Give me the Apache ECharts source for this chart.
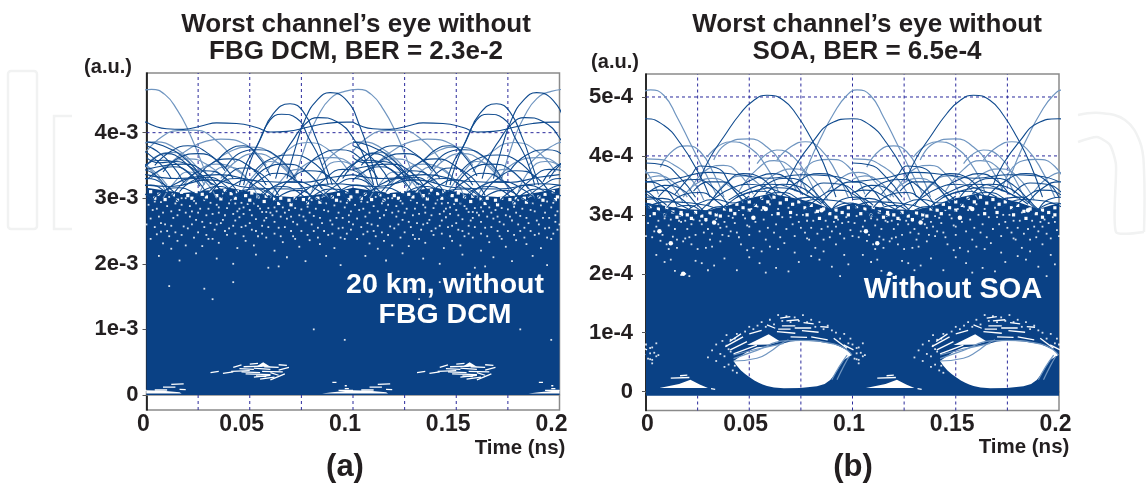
<!DOCTYPE html>
<html><head><meta charset="utf-8">
<script src="https://cdn.jsdelivr.net/npm/echarts@6/dist/echarts.min.js"></script>
<style>html,body{margin:0;padding:0;background:#fff}#c{width:1146px;height:485px}</style>
</head><body><div id="c"></div>
<script>
// ---------- axes ----------
const timeTicks=[0,0.05,0.1,0.15,0.2];
const timeGrid=[0.025,0.05,0.075,0.1,0.125,0.15,0.175];
const aLevelTicks=[0,1,2,3,4];
const aLevelLabels=['0','1e-3','2e-3','3e-3','4e-3'];
const bLevelTicks=[0,1,2,3,4,5];
const bLevelLabels=['0','1e-4','2e-4','3e-4','4e-4','5e-4'];
const repeats=[-0.1,0,0.1];   // the eye pattern repeats every 0.1 ns

// ---------- panel (a): values in units of 1e-3, traces as t,v,t,v... ----------
const aMassTop=[0,3.16,.008,3.12,.018,3.08,.03,3.12,.04,3.16,.05,3.1,.06,3.04,.07,3.02,.08,3.04,.09,3.09,.1,3.16];
const aMassBottom=0;
const aLightTraces=[
[.072,3.3,.078,3.9,.083,4.25,.089,4.52,.096,4.63,.1024,4.66,.109,4.58,.115,4.34,.12,4.05,.126,3.6,.131,3.2],
[0,3.72,.008,3.95,.015,4.03,.0226,4.04,.033,3.9,.043,3.55],
[.012,3.55,.022,3.78,.029,3.87,.036,3.9,.048,3.82,.058,3.5],
[.03,3.48,.041,3.72,.05,3.78,.061,3.68,.07,3.38],
[.058,3.4,.067,3.7,.078,3.85,.089,3.72,.098,3.4],
[.085,3.5,.094,3.75,.104,3.86,.115,3.74,.125,3.45],
[.002,3.3,.011,3.52,.02,3.6,.03,3.5,.04,3.22],
[.036,3.3,.044,3.58,.053,3.68,.063,3.55,.072,3.25],
[.07,3.28,.079,3.55,.09,3.62,.1,3.5,.11,3.2],
[.018,3.2,.026,3.44,.034,3.52,.044,3.42,.052,3.16],
[.046,3.1,.054,3.42,.06,3.56,.068,3.44,.076,3.1],
[.0,3.5,.006,3.66,.013,3.7,.02,3.58,.028,3.2],
[.08,3.1,.086,3.44,.093,3.56,.101,3.46,.109,3.12],
[.026,3.1,.032,3.38,.039,3.48,.047,3.36,.054,3.02],
[.06,3.0,.066,3.3,.073,3.44,.081,3.3,.088,3.0],
[.008,3.0,.014,3.26,.02,3.4,.027,3.3,.034,3.0]
];
const aDarkTraces=[
[0,4.16,.0097,4.06,.0178,4.05,.0275,4.11,.0339,4.15,.0436,4.14,.0533,4.08,.06,4.01,.068,4.02,.079,4.09,.087,4.14,.097,4.16,.1,4.16],
[.068,3.3,.0722,3.78,.0768,4.2,.0822,4.48,.0889,4.61,.097,4.49,.1034,4.09,.1082,3.64,.112,3.2],
[.047,3.2,.05,3.54,.055,3.89,.0614,4.29,.0695,4.44,.0759,4.32,.0824,3.89,.0864,3.54,.09,3.2],
[.045,3.2,.0485,3.54,.0533,3.79,.0598,4.19,.0654,4.28,.0727,4.22,.079,3.89,.084,3.59,.088,3.2],
[.0625,3.3,.0662,3.64,.071,3.89,.0765,4.12,.0832,4.23,.092,4.17,.1018,3.84,.1066,3.54,.11,3.2],
[.004,3.5,.012,3.72,.02,3.8,.03,3.68,.038,3.42],
[.038,3.45,.046,3.7,.054,3.74,.064,3.62,.072,3.3],
[.076,3.42,.084,3.66,.094,3.74,.104,3.6,.112,3.3],
[.0,3.62,.006,3.54,.014,3.56,.022,3.46,.032,3.2],
[.024,3.28,.031,3.52,.04,3.6,.05,3.48,.058,3.2],
[.05,3.2,.058,3.46,.067,3.52,.076,3.44,.085,3.14],
[.092,3.25,.099,3.5,.108,3.58,.118,3.44,.126,3.18],
[.0,3.28,.006,3.42,.013,3.48,.021,3.38,.029,3.08],
[.012,3.02,.02,3.3,.028,3.42,.037,3.34,.045,3.05],
[.031,3.06,.039,3.34,.047,3.46,.056,3.36,.064,3.04],
[.046,3.02,.054,3.26,.063,3.38,.071,3.3,.08,3.0],
[.062,3.02,.07,3.3,.079,3.42,.088,3.34,.096,3.04],
[.078,3.0,.086,3.28,.095,3.44,.104,3.36,.112,3.02],
[.006,3.02,.014,3.22,.023,3.3,.032,3.22,.04,3.0],
[.028,3.02,.036,3.24,.044,3.3,.052,3.2,.06,2.98],
[.055,2.98,.063,3.2,.072,3.26,.08,3.18,.088,3.0],
[.084,3.0,.092,3.2,.1,3.3,.108,3.22,.116,3.0],
[.0,3.2,.012,3.18,.03,3.28,.05,3.16,.07,3.14,.09,3.22,.1,3.2],
[.0,3.36,.015,3.3,.035,3.36,.055,3.26,.075,3.24,.09,3.32,.1,3.36],
[.0,3.44,.009,3.5,.018,3.52,.028,3.4,.036,3.1],
[.016,3.1,.022,3.26,.03,3.32,.038,3.2,.045,2.98],
[.036,3.0,.042,3.2,.05,3.28,.058,3.14,.065,2.92],
[.052,2.92,.058,3.12,.066,3.18,.074,3.08,.08,2.9],
[.07,2.92,.076,3.1,.084,3.2,.092,3.12,.098,2.96],
[.088,2.96,.094,3.12,.102,3.2,.11,3.08,.116,2.94],
[.003,2.98,.009,3.12,.016,3.16,.024,3.06,.03,2.94],
[.022,2.95,.029,3.14,.036,3.18,.043,3.06,.05,2.92],
[.041,2.95,.047,3.12,.054,3.14,.061,3.04,.067,2.88],
[.06,2.88,.066,3.06,.074,3.12,.081,3.02,.087,2.9],
[.077,2.9,.083,3.08,.09,3.14,.098,3.08,.104,2.96],
[.008,3.4,.016,3.62,.025,3.68,.034,3.58,.042,3.3],
[.052,3.4,.06,3.6,.07,3.66,.08,3.56,.088,3.3],
[.095,3.3,.102,3.56,.11,3.68,.118,3.56,.126,3.28],
[.034,3.55,.04,3.74,.047,3.8,.054,3.64,.06,3.34],
[.0,3.8,.005,3.72,.012,3.52,.018,3.24],
[.0,3.86,.008,3.8,.018,3.62,.028,3.28]
];
const aSpecks=[.011,3.02,.017,3.0,.019,3.0,.026,3.12,.037,3.07,.043,2.92,.046,2.93,.049,2.91,.056,2.79,.058,2.79,.082,3.0,.085,3.02,.08,2.97,.089,2.66,.081,2.73,.029,2.74,.024,2.67,.007,2.49,.002,2.69,.012,2.23,.039,2.85,
.004,2.95,.007,2.94,.014,2.92,.021,2.88,.023,2.96,.028,2.97,.031,2.93,.034,2.9,.035,2.78,.041,2.97,.044,2.8,.047,2.86,.052,2.92,.054,2.88,.059,2.85,.062,2.86,.066,2.86,.069,2.82,.072,2.85,.075,2.83,.078,2.87,.087,2.92,.091,2.89,.094,2.95,.097,2.93,.099,2.8,
.003,2.82,.006,2.72,.009,2.6,.013,2.7,.016,2.82,.018,2.57,.021,2.72,.026,2.84,.031,2.62,.033,2.52,.037,2.67,.042,2.58,.045,2.71,.05,2.62,.053,2.5,.057,2.66,.061,2.74,.064,2.55,.068,2.69,.073,2.6,.076,2.72,.083,2.55,.086,2.82,.092,2.7,.095,2.55,.098,2.64,
.002,2.38,.005,2.45,.008,2.31,.011,2.42,.015,2.35,.019,2.28,.023,2.4,.027,2.27,.03,2.38,.035,2.32,.039,2.44,.044,2.24,.048,2.35,.052,2.28,.058,2.4,.062,2.2,.066,2.33,.071,2.42,.074,2.26,.079,2.36,.084,2.3,.088,2.44,.091,2.24,.096,2.38,
.006,2.12,.016,2.05,.024,2.16,.034,2.08,.042,2.0,.053,2.14,.059,1.94,.068,2.1,.077,2.04,.087,2.12,.094,1.98,.028,1.62,.032,1.46,.011,1.66,.064,1.96,.042,1.72,.081,1.0,.096,.84,
.001,2.9,.005,2.84,.008,2.78,.01,2.88,.012,2.8,.015,2.74,.017,2.9,.019,2.78,.022,2.8,.024,2.92,.025,2.78,.027,2.64,.03,2.84,.032,2.76,.035,2.86,.036,2.62,.038,2.74,.04,2.92,.042,2.76,.043,2.66,.045,2.84,.047,2.76,.048,2.58,.05,2.82,.051,2.74,.053,2.68,.055,2.84,.056,2.58,.058,2.7,.06,2.78,.062,2.64,.063,2.8,.065,2.72,.067,2.78,.07,2.72,.071,2.64,.074,2.74,.077,2.66,.079,2.78,.08,2.6,.082,2.84,.084,2.7,.085,2.62,.088,2.8,.09,2.6,.093,2.78,.095,2.7,.096,2.86,.098,2.74,.1,2.6,
.004,2.56,.007,2.62,.01,2.5,.012,2.58,.014,2.48,.017,2.44,.02,2.54,.022,2.6,.025,2.48,.028,2.56,.029,2.44,.032,2.38,.034,2.6,.038,2.5,.04,2.54,.043,2.46,.046,2.56,.047,2.42,.051,2.52,.054,2.42,.056,2.46,.059,2.56,.062,2.46,.065,2.42,.067,2.56,.07,2.5,.072,2.38,.075,2.5,.078,2.44,.081,2.5,.083,2.4,.086,2.5,.09,2.46,.093,2.54,.094,2.4,.097,2.46,.099,2.52];
const aCells=[.002,3.1,.006,3.06,.01,3.12,.013,3.05,.017,3.09,.02,3.04,.024,3.1,.027,3.06,.031,3.11,.034,3.04,.038,3.12,.041,3.07,.044,3.1,.048,3.04,.051,3.08,.054,3.02,.058,3.03,.062,2.99,.065,3.0,.069,2.97,.072,3.0,.076,2.98,.079,3.0,.083,3.0,.086,3.05,.09,3.02,.093,3.06,.097,3.1,.099,3.02,
.004,3.0,.009,2.98,.015,2.97,.022,3.0,.029,3.02,.036,2.99,.043,3.0,.05,2.97,.057,2.95,.064,2.92,.07,2.9,.078,2.93,.084,2.94,.092,2.97,.098,2.98];
const aHoleTraces=[
.004,.075,.01,.075, .012,.16,.018,.17, .008,.12,.014,.12, .016,.085,.019,.08, .093,.07,.1,.07, .096,.095,.098,.095, .09,.19,.092,.19, .096,.14,.097,.14,
.047,.43,.056,.44, .05,.47,.054,.48, .057,.43,.064,.42, .041,.36,.05,.37, .048,.32,.06,.31, .052,.27,.06,.3, .056,.36,.066,.35, .055,.24,.062,.27, .06,.23,.067,.32, .064,.38,.069,.42, .037,.33,.042,.35, .031,.34,.035,.36,
.045,.4,.052,.39, .052,.41,.06,.39, .046,.35,.055,.34, .053,.29,.058,.28, .06,.34,.064,.3, .064,.46,.068,.45, .042,.42,.046,.46
];
const aHolePolys=[
[.053,.43,.0565,.5,.06,.43],
[.0,.02,.0,.07,.008,.065,.016,.04,.017,.02],
[.085,.02,.09,.04,.1,.07,.1,.02]
];

// ---------- panel (b): values in units of 1e-4 ----------
const bMassTop=[0,3.2,.008,3.16,.018,3.1,.03,3.08,.04,3.16,.05,3.28,.06,3.36,.07,3.3,.08,3.22,.09,3.1,.1,3.2];
const bMassBottom=-0.07;
const bLightTraces=[
[.075,3.5,.0796,3.93,.0844,4.29,.0909,4.72,.0973,5.03,.1022,5.12,.1086,5.03,.115,4.66,.1215,4.21,.128,3.76,.134,3.35],
[.0328,3.93,.0392,4.21,.0497,4.29,.0586,4.15,.0667,3.81,.073,3.4],
[.0295,3.98,.0408,4.24,.0497,4.15,.0586,3.8,.064,3.4],
[.0069,3.81,.0134,4.1,.0199,4.17,.0263,4.07,.0328,3.7,.0378,3.3],
[.0634,3.93,.07,4.15,.0772,4.24,.0844,4.12,.0925,3.7,.098,3.3],
[.0538,3.87,.0634,4.1,.0715,3.98,.078,3.65,.083,3.3],
[.0,3.95,.0061,3.94,.0134,3.85,.022,3.6,.028,3.25],
[.021,3.4,.03,3.78,.0375,3.84,.045,3.7,.052,3.35],
[.045,3.4,.054,3.78,.062,3.92,.071,3.78,.078,3.38],
[.072,3.4,.081,3.9,.089,3.94,.098,3.82,.106,3.35],
[.018,3.3,.024,3.52,.032,3.62,.04,3.5,.047,3.2],
[.056,3.5,.064,3.72,.072,3.78,.08,3.64,.088,3.25],
[.088,3.4,.096,3.66,.103,3.72,.111,3.56,.118,3.2],
[.0,3.6,.006,3.66,.013,3.56,.02,3.3],
[.033,3.3,.04,3.58,.047,3.66,.054,3.54,.061,3.26],
[.0424,.52,.0537,.567,.0602,.68,.065,.804,.069,.88],
[.0424,.624,.0537,.72,.0667,.82],
[.09,.2,.0935,.42,.0974,.62],
[.0925,.2,.096,.45,.0985,.6],
[.0424,.56,.0537,.7,.0667,.86,.0747,.87,.0909,.81,.0973,.708,.0997,.62]
];
const bDarkTraces=[
[.026,3.6,.0312,3.98,.0376,4.32,.0457,4.72,.0521,4.94,.0586,5.03,.0667,4.94,.0731,4.69,.0796,4.32,.086,3.87,.092,3.3],
[.068,3.5,.0731,3.87,.0812,4.26,.0893,4.55,.0998,4.63,.1086,4.52,.1167,4.21,.1256,3.7,.131,3.3],
[.0,3.88,.008,3.85,.016,3.65,.024,3.3],
[.0,3.56,.015,3.62,.03,3.72,.045,3.68,.06,3.62,.075,3.68,.09,3.66,.1,3.56],
[.014,3.35,.022,3.68,.0263,3.83,.034,3.8,.042,3.45,.048,3.2],
[.006,3.3,.015,3.55,.024,3.6,.033,3.45,.04,3.15],
[.03,3.15,.038,3.5,.047,3.7,.056,3.62,.064,3.3],
[.052,3.3,.06,3.55,.069,3.62,.078,3.5,.086,3.2],
[.064,3.25,.073,3.55,.084,3.7,.093,3.6,.1,3.3],
[.085,3.2,.092,3.45,.1,3.56,.108,3.48,.115,3.15],
[.0,3.38,.006,3.42,.014,3.34,.022,3.12],
[.01,3.12,.018,3.34,.026,3.38,.034,3.24,.04,3.05],
[.026,3.06,.034,3.3,.042,3.46,.05,3.52,.06,3.45,.07,3.3],
[.04,3.25,.05,3.44,.06,3.52,.07,3.46,.08,3.28],
[.058,3.35,.066,3.52,.074,3.48,.082,3.3,.09,3.06],
[.076,3.05,.084,3.3,.092,3.42,.1,3.36,.108,3.1],
[.0,3.26,.008,3.28,.016,3.18,.024,3.02],
[.018,3.02,.026,3.2,.034,3.26,.042,3.2,.05,3.32],
[.09,3.08,.095,3.26,.102,3.3,.11,3.16],
[.044,3.3,.054,3.42,.064,3.46,.075,3.38,.085,3.18],
[.0,3.12,.01,3.22,.022,3.2,.035,3.1],
[.072,3.12,.082,3.26,.092,3.24,.102,3.12],
[.0,3.2,.006,3.14,.012,3.06,.018,2.96],
[.008,2.96,.014,3.12,.021,3.16,.028,3.04,.034,2.94],
[.024,2.94,.03,3.08,.037,3.14,.044,3.1,.05,3.06],
[.034,3.02,.04,3.2,.048,3.36,.056,3.4,.064,3.3],
[.052,3.14,.058,3.32,.066,3.38,.074,3.26,.08,3.06],
[.068,3.14,.074,3.28,.082,3.3,.089,3.12,.094,2.96],
[.086,2.96,.092,3.14,.099,3.2,.106,3.06,.112,2.95],
[.002,3.4,.009,3.5,.017,3.44,.024,3.2,.03,3.0],
[.023,3.4,.03,3.56,.037,3.56,.044,3.42,.05,3.24],
[.046,3.5,.053,3.62,.061,3.7,.069,3.6,.076,3.34],
[.078,3.36,.086,3.54,.094,3.52,.102,3.36,.108,3.14]
];
const bSpecks=[.005,2.8,.01,2.5,.018,2.55,.013,2.63,.02,2.76,.023,2.92,.029,2.9,.036,2.78,.031,2.58,.028,2.7,.034,2.93,.04,2.98,.044,2.7,.047,3.0,.051,3.1,.056,3.08,.06,3.18,.053,2.88,.05,2.66,.058,2.58,.062,2.7,.066,2.96,.069,3.12,.073,3.0,.075,2.78,.078,2.9,.082,3.04,.085,2.76,.087,2.9,.091,2.88,.094,2.68,.097,2.96,
.002,2.98,.009,2.94,.012,2.92,.016,2.9,.019,2.9,.026,2.9,.038,2.88,.042,2.95,.045,3.08,.049,2.82,.054,3.14,.064,3.1,.071,2.84,.076,3.0,.08,2.78,.089,2.62,.093,2.92,.099,2.74,
.003,2.62,.007,2.56,.011,2.42,.015,2.44,.019,2.6,.022,2.5,.025,2.42,.029,2.44,.032,2.46,.036,2.55,.04,2.64,.046,2.5,.049,2.4,.052,2.44,.056,2.38,.06,2.46,.064,2.42,.067,2.52,.072,2.36,.078,2.6,.082,2.44,.086,2.38,.092,2.5,.096,2.32,
.005,2.32,.009,2.2,.012,2.24,.014,2.05,.017,1.98,.019,2.0,.021,1.96,.024,2.22,.027,2.18,.03,2.06,.033,2.14,.038,2.26,.044,2.06,.05,2.28,.055,2.18,.058,2.02,.063,2.1,.069,2.04,.074,2.2,.08,2.3,.084,2.24,.09,2.12,.094,1.96,.098,2.16,
.001,2.86,.004,2.72,.006,2.9,.008,2.66,.011,2.82,.014,2.76,.015,2.58,.017,2.88,.021,2.62,.022,2.84,.024,2.66,.027,2.84,.03,2.76,.032,2.68,.035,2.84,.037,2.66,.039,2.8,.041,2.72,.043,2.86,.045,2.62,.048,2.94,.05,2.8,.052,2.96,.055,2.72,.057,2.92,.059,2.78,.061,3.0,.063,2.84,.065,2.62,.068,2.76,.07,2.96,.072,2.64,.074,2.88,.077,2.7,.079,2.58,.081,2.9,.083,2.68,.086,2.58,.088,2.8,.09,2.72,.092,2.8,.095,2.86,.096,2.6,.098,2.88,.1,2.64,
.002,.55,.002,.65,.003,.48,.003,.75,.005,.6,.005,.82,
.03,.58,.032,.7,.034,.52,.034,.8,.036,.64,.038,.42,.037,.86,.039,.78,.04,.46,.041,.68,.039,.96,.044,.98,.048,1.02,.052,1.06,.056,1.18,.06,1.22,.064,1.3,.068,1.28,.072,1.26,.076,1.3,.08,1.22,.084,1.18,.088,1.12,.092,1.0,.096,.98,.099,.9,.102,.74,.104,.66,.101,.56,.106,.62,.044,.32,.046,.4,
.038,.6,.04,.72,.041,.88,.043,.9,.05,1.1,.054,1.12,.058,1.1,.062,1.14,.066,1.2,.07,1.18,.074,1.2,.078,1.18,.082,1.1,.086,1.06,.09,1.04,.094,.9,.098,.82,.1,.8,.103,.54,.042,.36,.043,.44];
const bCells=[.002,3.14,.006,3.1,.01,3.12,.013,3.05,.017,3.04,.02,3.0,.024,3.04,.027,2.98,.031,3.03,.034,3.0,.038,3.1,.041,3.08,.044,3.18,.047,3.12,.05,3.22,.053,3.16,.056,3.28,.059,3.22,.062,3.3,.065,3.2,.068,3.26,.071,3.18,.074,3.22,.077,3.12,.08,3.16,.083,3.06,.086,3.1,.089,3.02,.092,3.08,.095,3.04,.098,3.12,
.004,3.02,.009,3.0,.015,2.96,.022,2.94,.029,2.92,.036,2.98,.043,3.02,.05,3.08,.057,3.12,.064,3.02,.07,3.04,.078,3.0,.084,2.94,.092,2.96,.098,3.0];
const bBlobs=[.0065,2.72,.033,2.87,.018,2.0,.012,2.52,.017,3.0,.052,2.95,.085,3.08,.058,3.1];
const bHoleTraces=[
.0384,.765,.047,.93, .0408,.71,.0489,.85, .0424,.64,.0537,.79, .0405,.85,.046,.98,
.0634,1.019,.0723,.991, .0658,1.116,.0723,1.116, .0755,1.036,.0836,1.008, .0763,1.172,.0812,1.15, .065,1.246,.0699,1.274, .0844,1.104,.0884,1.093, .0909,.906,.0973,.736, .0586,1.133,.0626,1.076, .0957,.793,.1005,.708, .07,.93,.078,.92, .08,.93,.088,.88,
.012,.23,.021,.24, .0165,.27,.02,.28, .0315,.05,.0335,.04, .064,1.06,.07,1.06, .072,1.08,.08,1.08, .068,1.2,.074,1.22, .05,.98,.056,1.04
];
const bHolePolys=[
[.0424,.52,.044,.44,.046,.36,.048,.3,.05,.25,.0525,.19,.0546,.15,.0565,.12,.0586,.097,.062,.07,.0667,.057,.0747,.062,.0828,.09,.0865,.13,.0892,.199,.0915,.3,.0935,.42,.0957,.538,.0997,.623,.0973,.708,.094,.76,.0909,.81,.083,.85,.0747,.867,.07,.85,.065,.804,.06,.77,.0537,.753,.05,.7,.047,.63],
[.0489,.793,.0594,.975,.065,.85,.06,.8],
[.0065,.06,.016,.13,.0215,.2,.026,.12,.03,.06]
];
const bEyeGrid=[.05,.26,.72,.075,.07,.84];

const textColor='#231f20', massColor='#0a4185', gridColor='#2b2b9c', lightColor='#6f95c0', darkColor='#0f4a8e';

function pairs(flat,shift){const r=[];for(let i=0;i<flat.length;i+=2)r.push([flat[i]+shift,flat[i+1]]);return r;}
function poly(ax,points,fill,z){
  return {type:'custom',xAxisIndex:ax,yAxisIndex:ax,z,silent:true,clip:true,data:points,animation:false,
    renderItem:(p,api)=>p.dataIndex===0?{type:'polygon',shape:{points:points.map(q=>api.coord(q))},style:{fill}}:null};
}
function line(ax,data,color,width,z,opt){
  return Object.assign({type:'line',xAxisIndex:ax,yAxisIndex:ax,data,showSymbol:false,symbol:'none',silent:true,animation:false,z,clip:true,
    lineStyle:{color,width}},opt||{});
}
function dots(ax,data,symbol,size,color,opacity){
  return {type:'scatter',xAxisIndex:ax,yAxisIndex:ax,data,symbol,symbolSize:size,silent:true,animation:false,z:4,clip:true,itemStyle:{color,opacity}};
}
// the record starts at t = 0: high arcs that peak before 0.1 ns do not wrap back in at the left edge
function wrapsIntoStart(tr,highLevel){
  let peakT=tr[0],peakV=tr[1];
  for(let i=0;i<tr.length;i+=2)if(tr[i+1]>peakV){peakV=tr[i+1];peakT=tr[i];}
  return peakV<highLevel||peakT>=.097;
}
function panel(ax,ticks,yMin,yMax,highLevel,massTop,massBottom,light,dark,specks,cells,blobs,holeLines,holePolys,eyeGrid){
  const s=[];
  const dashed={lineStyle:{color:gridColor,width:1,type:[3,3]}};
  timeGrid.forEach(t=>s.push(line(ax,[[t,yMin],[t,yMax]],gridColor,1,2,dashed)));
  ticks.filter(v=>v>0).forEach(v=>s.push(line(ax,[[0,v],[.2,v]],gridColor,1,2,dashed)));
  const top=pairs(massTop,0).concat(pairs(massTop,.1));
  s.push(poly(ax,[[0,massBottom]].concat(top,[[.2,massBottom]]),massColor,3));
  repeats.forEach(sh=>{
    holePolys.forEach(h=>s.push(poly(ax,pairs(h,sh),'#ffffff',4)));
    for(let i=0;i<holeLines.length;i+=4){
      s.push(line(ax,[[holeLines[i]+sh,holeLines[i+1]],[holeLines[i+2]+sh,holeLines[i+3]]],'#ffffff',1.3,4));
    }
    for(let i=0;i+2<eyeGrid.length;i+=3){
      s.push(line(ax,[[eyeGrid[i]+sh,eyeGrid[i+1]],[eyeGrid[i]+sh,eyeGrid[i+2]]],gridColor,1,5,dashed));
    }
    s.push(dots(ax,pairs(specks,sh),'rect',1.8,'#ffffff',.85));
    s.push(dots(ax,pairs(cells,sh),'rect',3.2,'#ffffff',1));
    if(blobs.length)s.push(dots(ax,pairs(blobs,sh),'circle',4.5,'#ffffff',1));
    const keep=tr=>sh>=0||wrapsIntoStart(tr,highLevel);
    light.filter(keep).forEach(tr=>s.push(line(ax,pairs(tr,sh),lightColor,1.2,6,{smooth:.5})));
    dark.filter(keep).forEach(tr=>s.push(line(ax,pairs(tr,sh),darkColor,1.1,7,{smooth:.5})));
  });
  return s;
}
const labelFont={color:textColor,fontFamily:'Liberation Sans',fontWeight:'bold',fontSize:23};
function xAxis(ax,pad){
  return {gridIndex:ax,type:'value',min:0,max:.2,interval:.05,splitLine:{show:false},
    axisLine:{show:true,lineStyle:{color:'#8a8a8a',width:1.5}},axisTick:{show:false},
    axisLabel:Object.assign({show:true,margin:3,padding:[0,pad,0,0],showMinLabel:true,showMaxLabel:true,hideOverlap:false,
      rich:{first:Object.assign({padding:[0,0,0,10]},labelFont)},
      formatter:v=>{const t=timeTicks.find(q=>Math.abs(q-v)<1e-6);return t===0?'{first|0}':String(t);}},labelFont)};
}
function yAxis(ax,min,max,ticks,labels,margin){
  return {gridIndex:ax,type:'value',min,max,splitLine:{show:false},
    axisLine:{show:true,onZero:false,lineStyle:{color:'#000',width:1.5}},
    axisTick:{show:true,length:4,customValues:ticks,lineStyle:{color:'#555',width:1}},
    axisLabel:{show:true,customValues:ticks,color:textColor,fontFamily:'Liberation Sans',fontWeight:'bold',fontSize:22,margin,
      formatter:v=>labels[ticks.indexOf(v)]}};
}
function label(text,x,y,size,color,align){
  return {type:'text',x,y,z:100,silent:true,style:{text,fill:color||textColor,font:'bold '+size+'px "Liberation Sans"',align:align||'center',verticalAlign:'middle'}};
}
function outline(points,smooth){
  return {type:'polyline',z:-1,silent:true,shape:{points,smooth:smooth||0},style:{stroke:'#f1f2f2',lineWidth:2.5,fill:'none'}};
}
const chart=echarts.init(document.getElementById('c'),null,{renderer:'canvas'});
const titleStyle={color:textColor,fontFamily:'Liberation Sans',fontWeight:'bold',fontSize:26,lineHeight:27};
chart.setOption({
  animation:false,backgroundColor:'#fff',
  title:[
    {text:"Worst channel’s eye without\nFBG DCM, BER = 2.3e-2",left:351,top:6,textAlign:'center',textStyle:titleStyle},
    {text:"Worst channel’s eye without\nSOA, BER = 6.5e-4",left:862,top:6,textAlign:'center',textStyle:titleStyle}
  ],
  grid:[
    {left:146.5,top:73,width:413,height:337,show:true,borderColor:'#8a8a8a',borderWidth:1.5,backgroundColor:'#fff'},
    {left:646,top:74,width:413,height:336.5,show:true,borderColor:'#8a8a8a',borderWidth:1.5,backgroundColor:'#fff'}
  ],
  xAxis:[xAxis(0,16),xAxis(1,7)],
  yAxis:[yAxis(0,-.23,4.91,aLevelTicks,aLevelLabels,8),yAxis(1,-.32,5.39,bLevelTicks,bLevelLabels,13)],
  series:[].concat(
    panel(0,aLevelTicks,-.23,4.91,4.2,aMassTop,aMassBottom,aLightTraces,aDarkTraces,aSpecks,aCells,[],aHoleTraces,aHolePolys,[]),
    panel(1,bLevelTicks,-.32,5.39,4.5,bMassTop,bMassBottom,bLightTraces,bDarkTraces,bSpecks,bCells,bBlobs,bHoleTraces,bHolePolys,bEyeGrid)
  ),
  graphic:{elements:[
    {type:'rect',z:-1,silent:true,shape:{x:8,y:71,width:29,height:158,r:3},style:{stroke:'#f1f2f2',lineWidth:2.5,fill:'none'}},
    outline([[72,116],[54,116],[54,229],[72,229]]),
    outline([[1078,115],[1100,113],[1125,120],[1140,142],[1144,170],[1144,232]],.4),
    outline([[1078,142],[1097,137],[1110,145],[1116,165],[1116,232],[1144,232]],.2),
    label('(a.u.)',108,67,20),
    label('(a.u.)',615,62,20),
    label('20 km, without',445,285,28.5,'#fff'),
    label('FBG DCM',445,315,28.5,'#fff'),
    label('Without SOA',953,290,29,'#fff'),
    label('Time (ns)',520,448,20.5),
    label('Time (ns)',1024,447,20.5),
    label('(a)',345,467,31),
    label('(b)',853,467,31)
  ]}
});
</script></body></html>
